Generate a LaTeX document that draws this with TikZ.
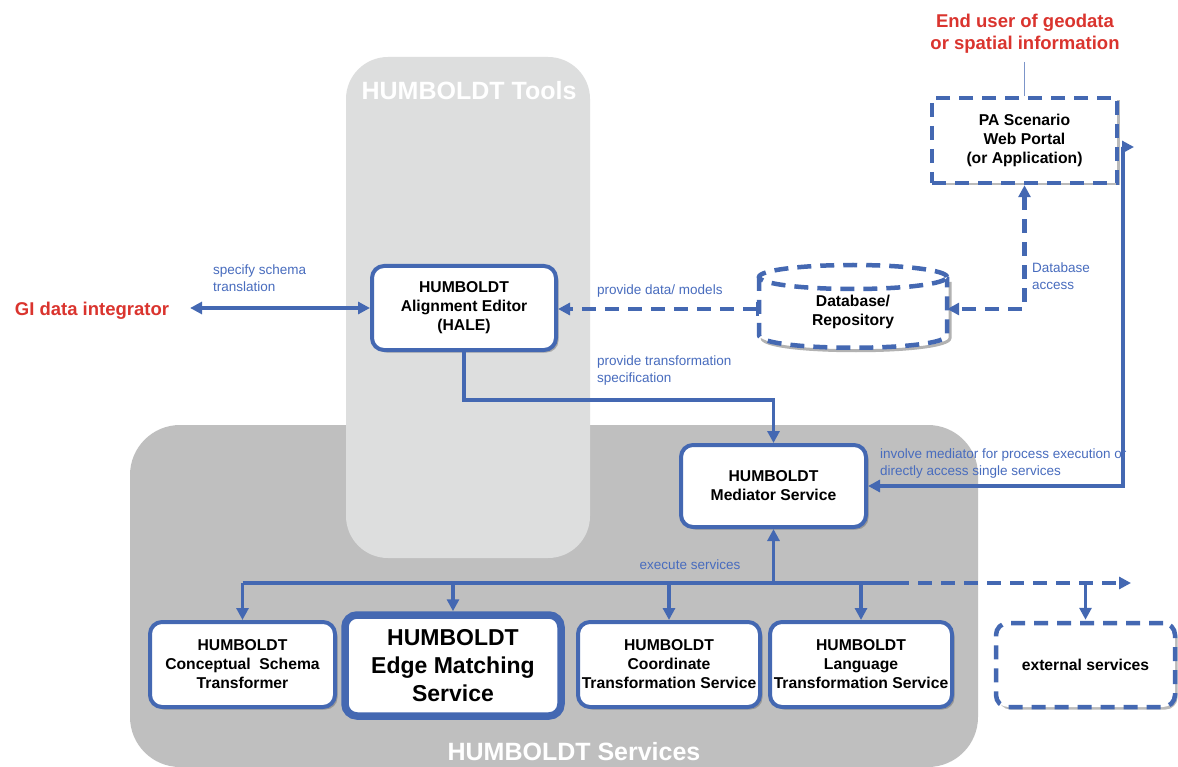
\documentclass[tikz,border=0pt]{standalone}
\usepackage{fontspec}
\setmainfont{Liberation Sans}
\usetikzlibrary{arrows.meta,shadows}
\definecolor{hblue}{RGB}{68,104,178}
\definecolor{lblue}{RGB}{72,108,190}
\definecolor{hred}{RGB}{218,52,46}
\definecolor{toolsgray}{RGB}{221,222,222}
\definecolor{servgray}{RGB}{191,191,191}
\newcommand\boxfnt{\bfseries\fontsize{15.7}{19}\selectfont}
\newcommand\lblfnt{\fontsize{13.5}{17}\selectfont}
\tikzset{
  sh/.style={drop shadow={shadow xshift=2.5pt,shadow yshift=-2.5pt,opacity=0.45,fill=black!60}},
  hbox/.style={draw=hblue,line width=4pt,fill=white,rounded corners=12pt,align=center,font=\boxfnt,inner sep=1pt,sh},
  conn/.style={draw=hblue,line width=3.5pt},
  dconn/.style={draw=hblue,line width=4.5pt,dash pattern=on 14pt off 9pt},
  tp/.tip={Triangle[length=12pt,width=12pt]},
  tip/.style={-tp},
  lbl/.style={text=lblue,font=\lblfnt,align=left,inner sep=0pt},
  ttl/.style={text=white,font=\bfseries\fontsize{25}{28}\selectfont,inner sep=0pt},
  actor/.style={text=hred,font=\bfseries\fontsize{18.5}{22}\selectfont,align=center,inner sep=0pt},
}
\begin{document}
\begin{tikzpicture}[x=1pt,y=-1pt]
\useasboundingbox (0,0) rectangle (1178,767);
\fill[white] (0,0) rectangle (1178,767);
% panels
\fill[servgray,rounded corners=50pt] (130,425) rectangle (978,767);
\fill[toolsgray,rounded corners=42pt] (346,57) rectangle (590,558);
\node[ttl] (ttools) at (469,91) {HUMBOLDT Tools};
\node[ttl] (tserv) at (574,752) {HUMBOLDT Services};
% actors
\node[actor,outer xsep=21pt] (gi) at (92,311) {GI data integrator};
\node[actor] (enduser) at (1025,34) {End user of geodata\\or spatial information};
% boxes
\node[hbox,minimum width=184pt,minimum height=84pt] (hale) at (464,308) {HUMBOLDT\\Alignment Editor\\(HALE)};
\node[hbox,minimum width=185pt,minimum height=82pt] (med) at (773.5,486) {HUMBOLDT\\Mediator Service};
\node[hbox,minimum width=185pt,minimum height=85pt] (cst) at (242.5,664.5) {HUMBOLDT\\Conceptual~ Schema\\Transformer};
\node[hbox,line width=7.5pt,minimum width=216pt,minimum height=101pt,font=\bfseries\fontsize{23}{28}\selectfont] (edge) at (453,665.5) {HUMBOLDT\\Edge Matching\\Service};
\node[hbox,minimum width=182pt,minimum height=85pt] (coord) at (669,664.5) {HUMBOLDT\\Coordinate\\Transformation Service};
\node[hbox,minimum width=182pt,minimum height=85pt] (lang) at (861,664.5) {HUMBOLDT\\Language\\Transformation Service};
\node[hbox,line width=4.5pt,dash pattern=on 14pt off 9pt,minimum width=179pt,minimum height=84pt] (ext) at (1085.5,665) {external services};
\node[hbox,line width=4.5pt,rounded corners=0pt,dash pattern=on 14pt off 9pt,minimum width=185pt,minimum height=85pt] (pa) at (1024.5,140.5) {PA Scenario\\Web Portal\\(or Application)};
% database cylinder
\node[minimum width=188pt,minimum height=80pt,inner sep=0pt] (db) at (853,309) {};
\draw[black!30,line width=3pt] (950,282) -- (950,338) .. controls (950,355) and (762,355) .. (762,338);
\draw[dconn,fill=white] (759,277) -- (759,335) .. controls (759,352) and (947,352) .. (947,335) -- (947,277);
\fill[white] (853,277) ellipse [x radius=94pt,y radius=12pt];
\draw[dconn] (853,277) ellipse [x radius=94pt,y radius=12pt];
\node[font=\boxfnt,align=center,inner sep=0pt] (dbtext) at (853,312) {Database/\\Repository};
% connectors
\draw[conn,tp-tp] (hale.west -| gi.east) -- (hale.west);
\node[lbl,anchor=north west] (l1) at (213,265) {specify schema\\translation};
\draw[dconn,{Bar[width=14pt,line width=3pt]}-tp] (db.west) -- (db.west -| hale.east);
\node[lbl,anchor=west] (l2) at (597,291) {provide data/ models};
\draw[dconn,tp-tp] (pa.south) |- (db.east);
\node[lbl,anchor=north west] (l3) at (1032,263) {Database\\access};
\draw[conn,tip] (hale.south) -- ++(0,48) -| (med.north);
\node[lbl,anchor=north west] (l4) at (597,356) {provide transformation\\specification};
\coordinate (pacorner) at (1123,147);
\draw[conn,tp-tp] (med.east) -| (pacorner) -- ++(11,0);
\node[lbl,anchor=north west] (l5) at (880,449) {involve mediator for process execution or\\directly access single services};
\draw[line width=0.6pt,draw=hblue!70] (1024.5,62) -- (pa.north);
% bus
\coordinate (busy) at (0,583);
\coordinate (busend) at (1131,583);
\draw[conn] (cst.north |- busy) -- (895,583);
\draw[dconn,tip] (895,583) -- (busend);
\draw[conn,tp-] (med.south) -- (med.south |- busy);
\foreach \n in {cst,edge,coord,lang}{
  \draw[conn,tip] (\n.north |- busy) -- (\n.north);
}
\draw[conn,tip] (ext.north |- busy) -- ([yshift=1pt]ext.north);
\node[lbl,anchor=center] (l6) at (690,565) {execute services};
\end{tikzpicture}
\end{document}
